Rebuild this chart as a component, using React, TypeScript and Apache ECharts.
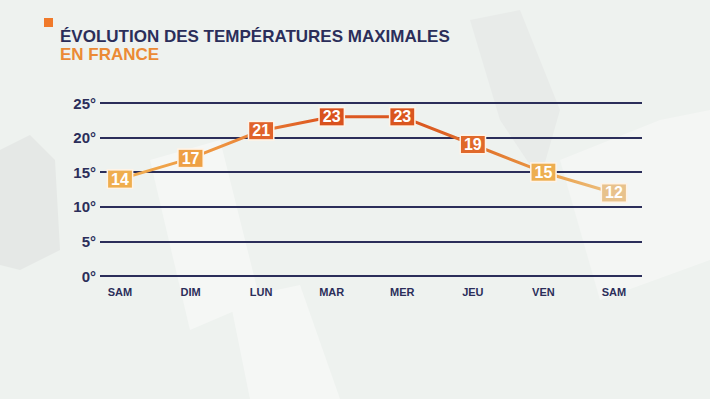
import React, { useEffect, useRef } from "react";
import * as echarts from "echarts";

const days = ["SAM", "DIM", "LUN", "MAR", "MER", "JEU", "VEN", "SAM"];
const temps = [14, 17, 21, 23, 23, 19, 15, 12];
const labelColors = ["#EFAE4E", "#EEA044", "#E0622A", "#D9521E", "#DA561F", "#E0692A", "#EDAE50", "#E8C28C"];
const yTicks = [0, 5, 10, 15, 20, 25];

const NAVY = "#2B2E5A";
const FONT = "'Liberation Sans', Arial, sans-serif";

export default function App() {
  const ref = useRef<HTMLDivElement>(null);
  useEffect(() => {
    if (!ref.current) return;
    const chart = echarts.init(ref.current, null, { renderer: "svg" });
    const top = 103;
    const bottom = 399 - 276;
    chart.setOption({
      animation: false,
      backgroundColor: "#EEF2EF",
      graphic: [
        { type: "polygon", silent: true, z: -10, shape: { points: [[0, 150], [30, 135], [55, 160], [60, 250], [20, 270], [0, 265]] }, style: { fill: "#E5E8E6" } },
        { type: "polygon", silent: true, z: -10, shape: { points: [[230, 300], [300, 285], [340, 399], [250, 399]] }, style: { fill: "#F5F7F5" } },
        { type: "polygon", silent: true, z: -10, shape: { points: [[470, 20], [520, 10], [560, 110], [540, 180], [500, 120]] }, style: { fill: "#E8EBE9" } },
        { type: "polygon", silent: true, z: -10, shape: { points: [[560, 160], [660, 120], [710, 110], [710, 260], [600, 300]] }, style: { fill: "#F4F6F4" } },
        { type: "polygon", silent: true, z: -10, shape: { points: [[150, 160], [220, 140], [260, 300], [190, 330]] }, style: { fill: "#F5F7F5" } },
        { type: "rect", shape: { x: 44, y: 18, width: 9, height: 9 }, style: { fill: "#F07A2A" } },
        { type: "text", left: 60, top: 28, style: { text: "ÉVOLUTION DES TEMPÉRATURES MAXIMALES", fill: NAVY, font: "bold 17px " + FONT, lineHeight: 15 } },
        { type: "text", left: 60, top: 46, style: { text: "EN FRANCE", fill: "#EB8A35", font: "bold 17px " + FONT, lineHeight: 15 } },
      ],
      grid: [
        { left: 100, right: 68, top, bottom },
        { left: 120, right: 96, top, bottom },
      ],
      xAxis: [
        { gridIndex: 0, type: "category", data: days, show: false },
        {
          gridIndex: 1,
          type: "category",
          data: days,
          boundaryGap: false,
          axisLine: { show: false },
          axisTick: { show: false },
          axisLabel: { color: NAVY, fontSize: 11, fontWeight: "bold", fontFamily: FONT, margin: 10 },
        },
      ],
      yAxis: [
        {
          gridIndex: 0,
          type: "value",
          min: 0,
          max: 25,
          interval: 5,
          axisLine: { show: false },
          axisTick: { show: false },
          axisLabel: {
            color: NAVY,
            fontSize: 15,
            fontWeight: "bold",
            fontFamily: FONT,
            margin: 4,
            formatter: (v: number) => (yTicks.includes(v) ? v + "°" : ""),
          },
          splitLine: { lineStyle: { color: NAVY, width: 2 } },
        },
        { gridIndex: 1, type: "value", min: 0, max: 25, interval: 5, show: false },
      ],
      series: [
        {
          type: "line",
          xAxisIndex: 1,
          yAxisIndex: 1,
          data: temps.map((v, i) => ({
            value: v,
            itemStyle: { color: labelColors[i] },
            label: { backgroundColor: labelColors[i] },
          })),
          symbol: "rect",
          symbolSize: 2,
          showSymbol: true,
          lineStyle: {
            width: 3,
            color: {
              type: "linear",
              x: 0, y: 0, x2: 1, y2: 0,
              colorStops: [
                { offset: 0, color: "#F0AE50" },
                { offset: 0.2, color: "#EE9440" },
                { offset: 0.4, color: "#DE5A22" },
                { offset: 0.6, color: "#DA561F" },
                { offset: 0.75, color: "#E2772E" },
                { offset: 0.88, color: "#ECA24C" },
                { offset: 1, color: "#EBC184" },
              ],
            },
          },
          label: {
            show: true,
            position: "inside",
            color: "#FFFFFF",
            fontSize: 16,
            fontWeight: "bold",
            fontFamily: FONT,
            padding: [1, 3, 0, 3],
            borderColor: "#FFF3E6",
            borderWidth: 1.5,
            align: "center",
            verticalAlign: "middle",
          },
        },
      ],
    });
    return () => chart.dispose();
  }, []);
  return (
    <div style={{ position: "fixed", left: 0, top: 0 }}>
      <div ref={ref} style={{ width: 710, height: 399 }} />
    </div>
  );
}
